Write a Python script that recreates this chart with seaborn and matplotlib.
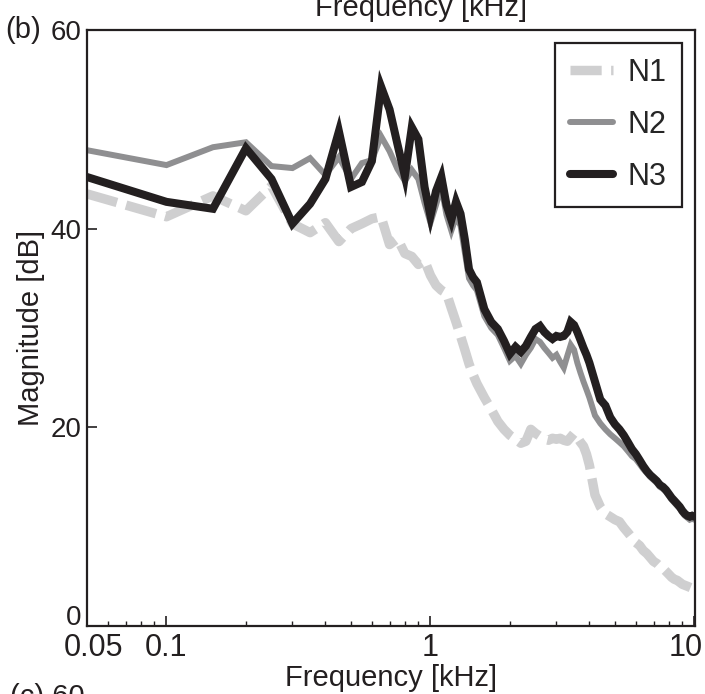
import matplotlib
matplotlib.use('Agg')
import pandas as pd
import matplotlib.pyplot as plt
import matplotlib.transforms as mtransforms
import seaborn as sns
from matplotlib.ticker import FixedLocator, NullFormatter

# frequency bins (kHz)
freq = [0.05, 0.1, 0.15, 0.2, 0.25, 0.3, 0.35, 0.4, 0.45, 0.5,
        0.55, 0.6, 0.65, 0.7, 0.75, 0.8, 0.85, 0.9, 0.95, 1.0,
        1.05, 1.1, 1.15, 1.2, 1.25, 1.3, 1.35, 1.4, 1.45, 1.5,
        1.6, 1.7, 1.8, 1.9, 2.0, 2.1, 2.2, 2.3, 2.4, 2.5,
        2.6, 2.7, 2.8, 2.9, 3.0, 3.1, 3.2, 3.3, 3.4, 3.5,
        3.6, 3.7, 3.8, 3.9, 4.0, 4.2, 4.4, 4.6, 4.8, 5.0,
        5.2, 5.4, 5.6, 5.8, 6.0, 6.2, 6.4, 6.6, 6.8, 7.0,
        7.2, 7.4, 7.6, 7.8, 8.0, 8.2, 8.4, 8.6, 8.8, 9.0,
        9.2, 9.4, 9.6, 9.8, 10.0]

n1 = [43.5, 41.2, 43.3, 41.8, 44.3, 40.5, 39.6, 40.6, 38.7, 40.0,
      40.5, 41.0, 41.2, 38.4, 39.0, 37.5, 37.2, 36.4, 36.8, 35.3,
      34.3, 33.8, 33.5, 32.0, 30.6, 29.2, 27.8, 26.4, 25.3, 24.4,
      23.0, 21.8, 20.6, 19.8, 19.2, 18.8, 18.4, 18.6, 19.8, 19.4,
      19.1, 18.8, 18.7, 18.9, 18.8, 18.9, 18.7, 18.6, 19.0, 19.4,
      19.0, 18.5, 18.1, 17.3, 16.2, 13.2, 12.0, 11.3, 11.0, 10.7,
      10.5, 9.9, 9.4, 8.9, 8.4, 8.1, 7.6, 7.3, 6.9, 6.5,
      6.3, 6.0, 5.8, 5.5, 5.2, 4.9, 4.7, 4.6, 4.4, 4.2,
      4.1, 4.0, 3.9, 3.8, 3.8]

n2 = [47.9, 46.4, 48.2, 48.7, 46.3, 46.1, 47.1, 45.4, 47.2, 45.0,
      46.6, 46.9, 49.3, 47.8, 46.0, 44.8, 45.9, 45.0, 42.6, 40.6,
      42.4, 44.2, 41.4, 39.8, 41.2, 40.3, 37.6, 35.0, 34.3, 33.8,
      31.2, 30.0, 29.3, 28.0, 26.7, 27.2, 26.4, 27.3, 28.0, 28.9,
      28.6, 28.0, 27.5, 27.0, 27.3, 26.6, 26.0, 27.2, 28.3, 27.8,
      26.5, 25.5, 24.6, 23.8, 23.0, 21.2, 20.4, 19.8, 19.3, 18.9,
      18.5, 18.1, 17.6, 17.1, 16.8, 16.3, 15.8, 15.4, 15.0, 14.7,
      14.4, 14.0, 13.8, 13.5, 13.1, 12.7, 12.4, 12.1, 11.8, 11.4,
      11.1, 10.9, 10.7, 10.8, 10.7]

n3 = [45.2, 42.7, 42.0, 48.1, 45.0, 40.5, 42.5, 45.0, 49.8, 44.2,
      44.7, 46.8, 54.3, 52.0, 48.5, 45.3, 50.2, 49.0, 44.2, 41.3,
      43.8, 45.2, 42.4, 40.9, 42.7, 41.5, 38.9, 35.9, 35.1, 34.6,
      31.9, 30.6, 29.9, 28.7, 27.4, 28.1, 27.6, 28.2, 29.1, 29.9,
      30.2, 29.6, 29.2, 28.9, 29.2, 29.1, 29.2, 29.6, 30.6, 30.3,
      29.6, 28.8, 28.0, 27.3, 26.5, 24.6, 22.8, 22.2, 21.0, 20.3,
      19.8, 19.2, 18.5, 17.8, 17.3, 16.7, 16.1, 15.6, 15.2, 14.9,
      14.6, 14.2, 14.0, 13.7, 13.3, 12.9, 12.6, 12.3, 12.0, 11.6,
      11.3, 11.1, 11.0, 11.1, 11.0]

labels = ['N1', 'N2', 'N3']
colors = {'N1': '#cfcfd0', 'N2': '#8f8f91', 'N3': '#231f20'}
widths = {'N1': 6.8, 'N2': 4.3, 'N3': 5.8}
ink = '#231f20'

df = pd.DataFrame({'freq': freq * 3,
                   'mag': n1 + n2 + n3,
                   'label': [l for l in labels for _ in freq]})

sns.set_style('ticks')
plt.rcParams['font.family'] = ['Liberation Sans', 'DejaVu Sans']

fig = plt.figure(figsize=(7.05, 6.94), dpi=100)
ax = fig.add_axes([87 / 705, 1 - 626 / 694, (695 - 87) / 705, (626 - 30) / 694])

for lab in labels:
    sub = df[df['label'] == lab]
    sns.lineplot(data=sub, x='freq', y='mag', ax=ax, color=colors[lab],
                 linewidth=widths[lab], label=lab, sort=False)
for ln in ax.get_lines():
    ln.set_solid_joinstyle('miter')
ax.get_lines()[0].set_dashes((3.3, 1.0))

ax.set_xscale('log')
ax.set_xlim(0.05, 10.05)
ax.set_ylim(0, 60)
ax.xaxis.set_major_locator(FixedLocator([0.05, 0.1, 1, 10]))
ax.set_xticklabels(['0.05', '0.1', '1', '10'])
ax.xaxis.set_minor_locator(FixedLocator(
    [0.06, 0.07, 0.08, 0.09] + [i / 10 for i in range(2, 10)] + list(range(2, 10))))
ax.xaxis.set_minor_formatter(NullFormatter())
ax.set_yticks([0, 20, 40, 60])
ax.tick_params(axis='both', which='major', direction='in', length=7.5, width=1.2,
               color=ink, labelcolor=ink)
ax.tick_params(axis='x', which='major', labelsize=22, pad=5)
ax.tick_params(axis='y', which='major', labelsize=20, pad=4)
ax.tick_params(axis='x', which='minor', direction='in', length=3.5, width=1.0, color=ink)
ax.tick_params(axis='y', which='minor', left=False)
for s in ax.spines.values():
    s.set_linewidth(1.6)
    s.set_color(ink)

# nudge the crowded corner / edge tick labels like in the original layout
ylabs = ax.get_yticklabels()
ylabs[0].set_transform(ylabs[0].get_transform() +
                       mtransforms.ScaledTranslation(0, 11 / 100, fig.dpi_scale_trans))
xlabs = ax.get_xticklabels()
xlabs[-1].set_transform(xlabs[-1].get_transform() +
                        mtransforms.ScaledTranslation(-9 / 100, 0, fig.dpi_scale_trans))
xlabs[0].set_transform(xlabs[0].get_transform() +
                       mtransforms.ScaledTranslation(6 / 100, 0, fig.dpi_scale_trans))

ax.set_xlabel('Frequency [kHz]', fontsize=21, color=ink, labelpad=1)
ax.set_ylabel('Magnitude [dB]', fontsize=21, color=ink, labelpad=4)

leg = ax.legend(loc='upper right', fontsize=22, frameon=True, fancybox=False,
                edgecolor=ink, framealpha=1, handlelength=1.4,
                labelspacing=0.72, borderpad=0.5, borderaxespad=0.42, handletextpad=0.5)
leg.get_frame().set_linewidth(1.6)

# panel letters and cut-off neighbouring labels
fig.text(5 / 705, 1 - 30 / 694, '(b)', fontsize=21, color=ink, va='center', ha='left')
fig.text(421 / 705, 1 - 16 / 694, 'Frequency [kHz]', fontsize=21, color=ink,
         va='baseline', ha='center')
fig.text(10 / 705, 1 - 683 / 694, '(c) 60', fontsize=21, color=ink, va='top', ha='left')

fig.savefig('out.png', dpi=100)
